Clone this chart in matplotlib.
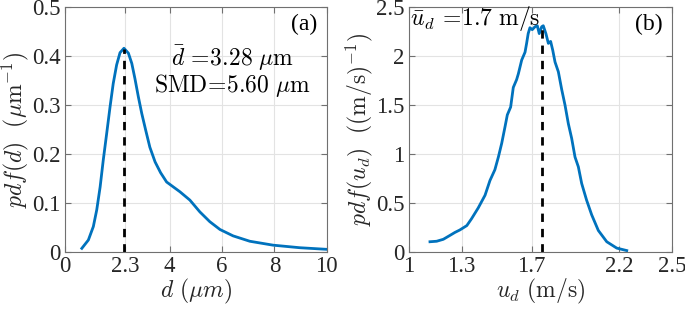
import numpy as np
import matplotlib.pyplot as plt

plt.rcParams['font.family'] = ['Liberation Serif', 'DejaVu Serif']
plt.rcParams['mathtext.fontset'] = 'cm'

# panel (a): droplet diameter pdf
d_vals = [0.64, 0.89, 1.08, 1.21, 1.34, 1.46, 1.59, 1.72, 1.84, 1.97, 2.10, 2.25,
          2.42, 2.55, 2.67, 2.80, 2.93, 3.08, 3.24, 3.44, 3.65, 3.88, 4.39, 4.77,
          5.15, 5.53, 5.92, 6.42, 7.06, 7.95, 8.97, 10.0]
pdf_d = [0.0075, 0.0245, 0.052, 0.086, 0.133, 0.188, 0.242, 0.297, 0.344, 0.382,
         0.407, 0.416, 0.406, 0.385, 0.354, 0.317, 0.283, 0.249, 0.214, 0.184,
         0.162, 0.143, 0.123, 0.106, 0.082, 0.062, 0.046, 0.033, 0.022, 0.014,
         0.0088, 0.0055]
d_peak = 2.26
pdf_d_peak = 0.415

# panel (b): droplet velocity pdf
u_vals = [1.12, 1.158, 1.196, 1.234, 1.262, 1.29, 1.33, 1.357, 1.395, 1.434, 1.462,
          1.49, 1.51, 1.529, 1.548, 1.561, 1.58, 1.595, 1.614, 1.624, 1.643, 1.662,
          1.671, 1.68, 1.69, 1.703, 1.719, 1.732, 1.743, 1.757, 1.766, 1.781, 1.795,
          1.808, 1.82, 1.833, 1.852, 1.871, 1.89, 1.909, 1.928, 1.947, 1.966, 1.985,
          2.013, 2.042, 2.08, 2.128, 2.185, 2.242]
pdf_u = [0.105, 0.11, 0.13, 0.17, 0.20, 0.225, 0.27, 0.34, 0.45, 0.58, 0.73,
         0.84, 0.97, 1.11, 1.28, 1.40, 1.48, 1.68, 1.76, 1.82, 1.96, 2.04,
         2.13, 2.23, 2.29, 2.27, 2.30, 2.31, 2.23, 2.30, 2.31, 2.23, 2.13,
         2.15, 2.06, 1.94, 1.84, 1.66, 1.50, 1.31, 1.16, 0.97, 0.87, 0.70,
         0.53, 0.38, 0.22, 0.105, 0.04, 0.015]
u_peak = 1.76
pdf_u_peak = 2.29

blue = '#0072BD'
fs_tick = 16.5
fs_lab = 17
fs_txt = 17

fig = plt.figure(figsize=(6.85, 3.10), dpi=100)
ax1 = fig.add_axes([0.095, 0.187, 0.382, 0.790])
ax2 = fig.add_axes([0.597, 0.187, 0.384, 0.790])


def style(ax):
    ax.grid(True, color='#e3e3e3', linewidth=0.8)
    ax.set_axisbelow(True)
    for s in ax.spines.values():
        s.set_color('#707070')
        s.set_linewidth(0.8)
    ax.tick_params(direction='in', top=True, right=True, labelsize=fs_tick,
                   colors='#707070', labelcolor='#262626', length=4, pad=3)


ax1.plot(d_vals, pdf_d, color=blue, lw=2)
ax1.plot([d_peak, d_peak], [0, pdf_d_peak], 'k--', lw=2, dashes=(3, 2.5))
ax1.set_xlim(0, 10)
ax1.set_ylim(0, 0.5)
ax1.set_xticks([0, 2.3, 4, 6, 8, 10])
ax1.set_xticklabels(['0', '2.3', '4', '6', '8', '10'])
ax1.set_yticks([0, 0.1, 0.2, 0.3, 0.4, 0.5])
ax1.set_yticklabels(['0', '0.1', '0.2', '0.3', '0.4', '0.5'])
ax1.set_xlabel(r'$d\ (\mu m)$', fontsize=fs_lab, labelpad=0, color='#262626')
ax1.set_ylabel(r'$pdf(d)\ \ (\mu\mathrm{m}^{-1})$', fontsize=fs_lab, labelpad=1, color='#262626')
ax1.text(0.965, 0.93, '(a)', transform=ax1.transAxes, ha='right', va='center', fontsize=fs_txt)
ax1.text(0.64, 0.79, r'$\bar{d}\,=\!3.28\ \mu\mathrm{m}$', transform=ax1.transAxes,
         ha='center', va='center', fontsize=fs_txt)
ax1.text(0.64, 0.68, r'$\mathrm{SMD}\!=\!5.60\ \mu\mathrm{m}$', transform=ax1.transAxes,
         ha='center', va='center', fontsize=fs_txt)
style(ax1)

ax2.plot(u_vals, pdf_u, color=blue, lw=2)
ax2.plot([u_peak, u_peak], [0, pdf_u_peak], 'k--', lw=2, dashes=(3, 2.5))
ax2.set_xlim(1, 2.5)
ax2.set_ylim(0, 2.5)
ax2.set_xticks([1, 1.3, 1.7, 2.2, 2.5])
ax2.set_xticklabels(['1', '1.3', '1.7', '2.2', '2.5'])
ax2.set_yticks([0, 0.5, 1, 1.5, 2, 2.5])
ax2.set_yticklabels(['0', '0.5', '1', '1.5', '2', '2.5'])
ax2.set_xlabel(r'$u_d\ \mathrm{(m/s)}$', fontsize=fs_lab, labelpad=0, color='#262626')
ax2.set_ylabel(r'$pdf(u_d)\ \ ((\mathrm{m/s})^{-1})$', fontsize=fs_lab, labelpad=1, color='#262626')
ax2.text(0.965, 0.93, '(b)', transform=ax2.transAxes, ha='right', va='center', fontsize=fs_txt)
ax2.text(0.005, 0.955, r'$\bar{u}_d\,=\!1.7\ \mathrm{m/s}$', transform=ax2.transAxes,
         ha='left', va='center', fontsize=fs_txt)
style(ax2)

fig.savefig('out.png', dpi=100)
